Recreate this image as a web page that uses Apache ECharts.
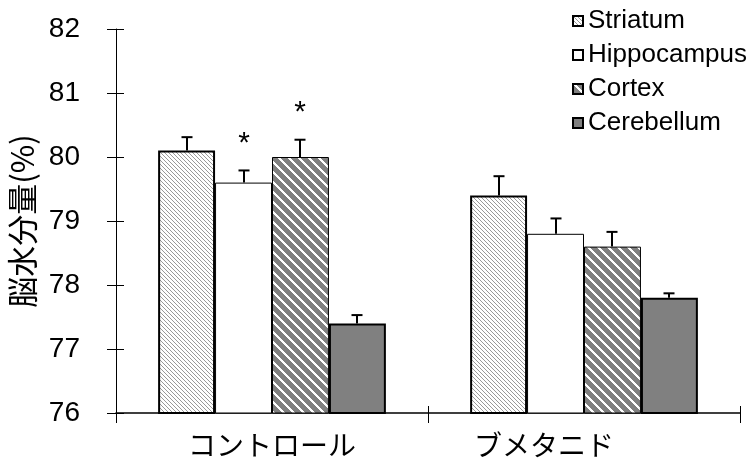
<!DOCTYPE html>
<html>
<head>
<meta charset="utf-8">
<script src="https://cdn.jsdelivr.net/npm/echarts@6/dist/echarts.min.js"></script>
<style>
  html, body { margin: 0; padding: 0; background: #fff; }
  #chart { width: 756px; height: 470px; }
</style>
</head>
<body>
<div id="chart"></div>
<script>
// Groups and regions
const categories = ['コントロール', 'ブメタニド'];
const regions = ['Striatum', 'Hippocampus', 'Cortex', 'Cerebellum'];

// Mean brain water content (%) per region, one value per group
const striatum    = [80.1, 79.4];
const hippocampus = [79.6, 78.8];
const cortex      = [80.0, 78.6];
const cerebellum  = [77.4, 77.8];

// Upper error (SEM) per region, one value per group
const striatumErr    = [0.21, 0.30];
const hippocampusErr = [0.19, 0.24];
const cortexErr      = [0.27, 0.23];
const cerebellumErr  = [0.13, 0.07];

// Significance marks per region, one per group
const striatumSig    = ['', ''];
const hippocampusSig = ['*', ''];
const cortexSig      = ['*', ''];
const cerebellumSig  = ['', ''];

// Y axis tick labels
const yTicks = [76, 77, 78, 79, 80, 81, 82];

const LATIN = '"Liberation Sans", Arial, sans-serif';
const CJK = '"Noto Sans CJK JP", sans-serif';

// Pattern tiles drawn on small canvases
function stripeTile(size, band, ink, paper) {
  const c = document.createElement('canvas');
  c.width = size; c.height = size;
  const g = c.getContext('2d');
  g.fillStyle = paper; g.fillRect(0, 0, size, size);
  g.fillStyle = ink;
  for (let y = 0; y < size; y++) {
    for (let x = 0; x < size; x++) {
      const d = ((x - y) % size + size) % size;
      if (d < band) g.fillRect(x, y, 1, 1);
    }
  }
  return c;
}
const fineHatch = { image: stripeTile(4, 1, '#999999', '#ffffff'), repeat: 'repeat' };
const wideStripe = { image: stripeTile(10, 3, '#ffffff', '#808080'), repeat: 'repeat' };

const BAR_GAP = 0.27;

const seriesDefs = [
  { name: regions[0], data: striatum,    color: fineHatch,  border: 2 },
  { name: regions[1], data: hippocampus, color: '#ffffff',  border: 1 },
  { name: regions[2], data: cortex,      color: wideStripe, border: 1 },
  { name: regions[3], data: cerebellum,  color: '#808080',  border: 2 }
];
const errs = [striatumErr, hippocampusErr, cortexErr, cerebellumErr];
const sigs = [striatumSig, hippocampusSig, cortexSig, cerebellumSig];

// Error bar rows: [category index, region index, mean, error, mark]
const errRows = [];
seriesDefs.forEach((s, si) => {
  s.data.forEach((v, ci) => errRows.push([ci, si, v, errs[si][ci], sigs[si][ci]]));
});

const barSeries = seriesDefs.map(s => ({
  name: s.name,
  type: 'bar',
  data: s.data,
  barGap: '0%',
  barCategoryGap: (BAR_GAP * 100) + '%',
  itemStyle: { color: s.color, borderColor: '#000', borderWidth: s.border },
  emphasis: { disabled: true },
  silent: true
}));

const errorSeries = {
  type: 'custom',
  name: 'err',
  data: errRows,
  silent: true,
  z: 5,
  renderItem: function (params, api) {
    const ci = api.value(0), si = api.value(1);
    const mean = api.value(2), err = api.value(3);
    const mark = errRows[params.dataIndex][4];
    const band = api.size([1, 0])[0];
    const barW = band * (1 - BAR_GAP) / 4;
    const base = api.coord([ci, mean]);
    const top = api.coord([ci, mean + err]);
    const x = Math.round(base[0] + (si - 1.5) * barW);
    const style = { stroke: '#000', lineWidth: 2 };
    const children = [
      { type: 'line', shape: { x1: x, y1: base[1], x2: x, y2: top[1] }, style: style },
      { type: 'line', shape: { x1: x - 5.5, y1: top[1], x2: x + 5.5, y2: top[1] }, style: style }
    ];
    if (mark) {
      children.push({
        type: 'text',
        style: { text: mark, x: x, y: top[1] - 27, align: 'center', verticalAlign: 'middle',
                 font: '30px ' + LATIN, fill: '#000' }
      });
    }
    return { type: 'group', children: children };
  }
};

const chart = echarts.init(document.getElementById('chart'), null, { renderer: 'canvas' });
chart.setOption({
  animation: false,
  backgroundColor: '#ffffff',
  grid: { left: 116, right: 16, top: 29, bottom: 57, containLabel: false, outerBoundsMode: 'none' },
  legend: {
    data: regions,
    orient: 'vertical',
    left: 567,
    top: 3,
    icon: 'rect',
    itemWidth: 10,
    itemHeight: 10,
    itemGap: 8,
    textStyle: { fontFamily: LATIN, fontSize: 26, color: '#000' },
    selectedMode: false
  },
  xAxis: [
    {
      type: 'category',
      position: 'bottom',
      data: categories.map((c, i) => i === 1
        ? { value: c, textStyle: { padding: [0, 80, 0, 0] } }
        : { value: c }),
      axisLine: { lineStyle: { color: '#000', width: 1.5 } },
      axisTick: { show: true, length: 10, lineStyle: { color: '#000' } },
      axisLabel: { fontFamily: CJK, fontSize: 28, color: '#000', margin: 18 }
    },
    {
      type: 'category',
      data: categories,
      position: 'bottom',
      axisLine: { show: false },
      axisTick: { show: true, inside: true, length: 7, lineStyle: { color: '#000' } },
      axisLabel: { show: false }
    }
  ],
  yAxis: [
    {
      type: 'value',
      position: 'left',
      min: yTicks[0],
      max: yTicks[yTicks.length - 1],
      interval: 1,
      name: '脳水分量(%)',
      nameLocation: 'middle',
      nameRotate: 90,
      nameGap: 75,
      nameTextStyle: { fontFamily: CJK, fontSize: 31, color: '#000' },
      axisLine: { show: true, lineStyle: { color: '#000', width: 1 } },
      axisTick: { show: true, length: 9, lineStyle: { color: '#000' } },
      axisLabel: { fontFamily: LATIN, fontSize: 28, color: '#000', margin: 36,
                   formatter: v => yTicks.includes(v) ? String(v) : '' },
      splitLine: { show: false }
    },
    {
      type: 'value',
      position: 'left',
      min: yTicks[0],
      max: yTicks[yTicks.length - 1],
      interval: 1,
      axisLine: { show: false },
      axisTick: { show: true, inside: true, length: 8, lineStyle: { color: '#000' } },
      axisLabel: { show: false },
      splitLine: { show: false }
    }
  ],
  series: barSeries.concat([errorSeries])
});
</script>
</body>
</html>
